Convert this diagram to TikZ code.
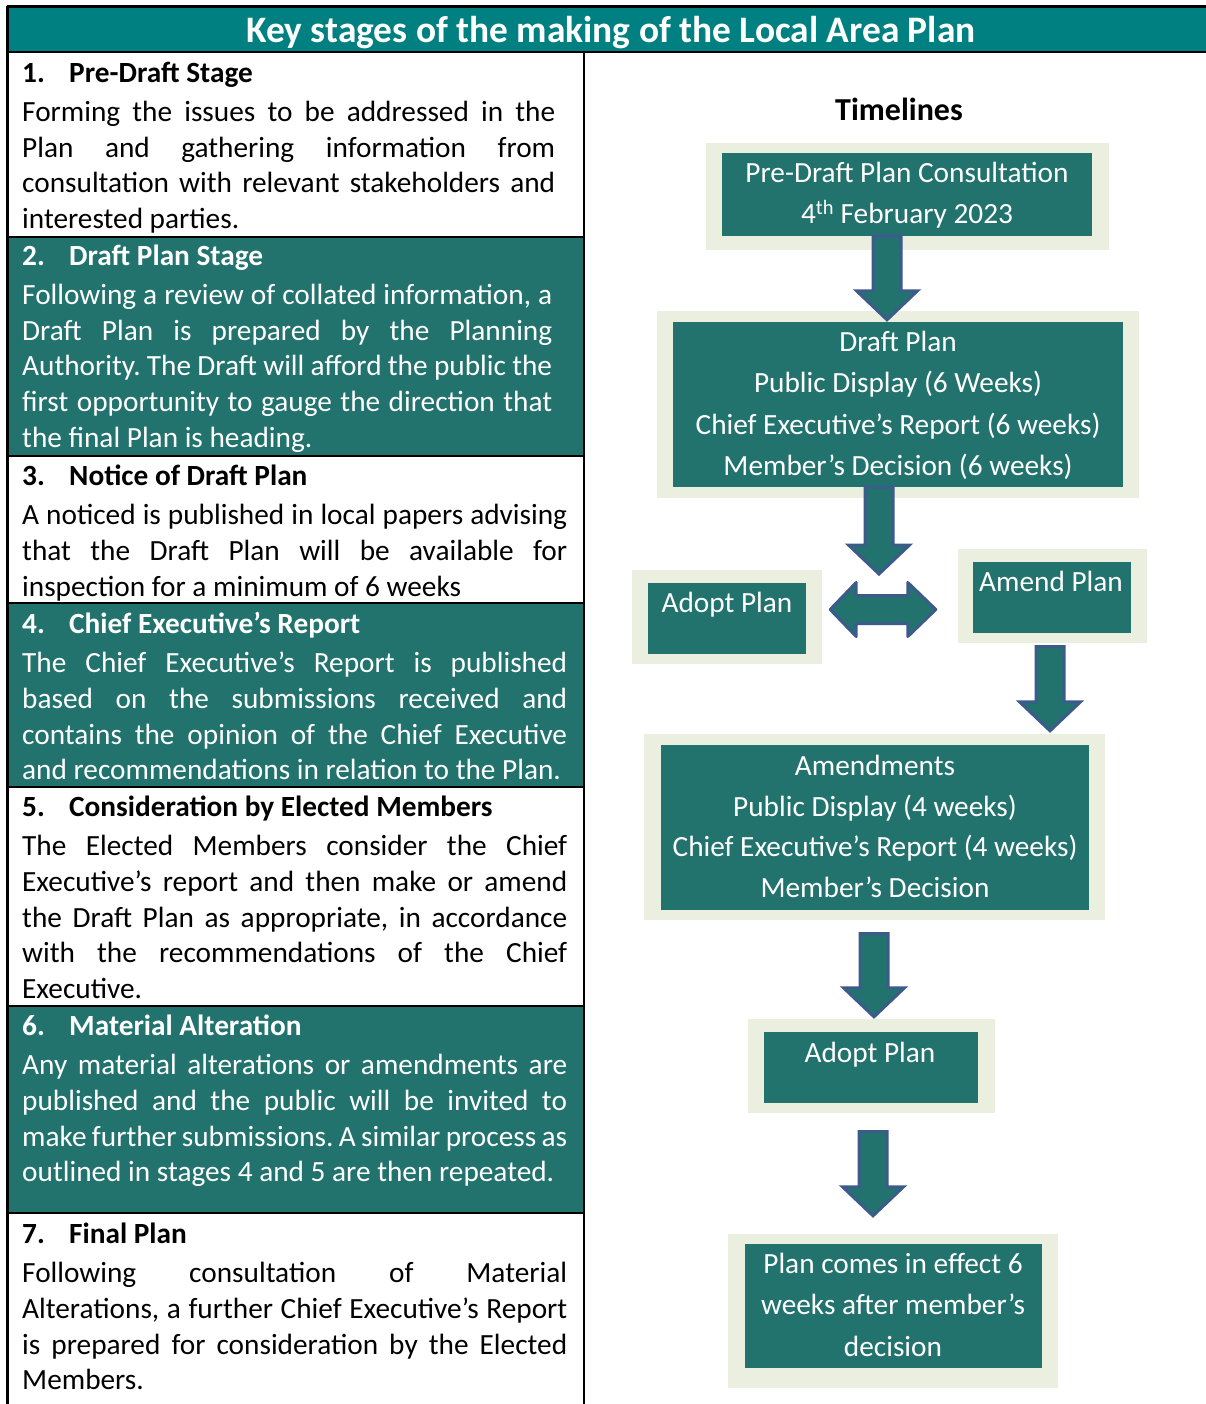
\documentclass[tikz,border=0pt]{standalone}
\usepackage{fontspec}
\setmainfont{Carlito}
\usetikzlibrary{calc,fit}
\definecolor{titleteal}{RGB}{0,128,128}
\definecolor{boxteal}{RGB}{34,115,110}
\definecolor{framebg}{RGB}{235,239,223}
\definecolor{arrowblue}{RGB}{60,91,139}
\newlength\rw
\newcommand\ns{\leavevmode\spaceskip=\fontdimen2\font\relax\xspaceskip=\spaceskip\frenchspacing}
\newcommand\J[1]{\makebox[\rw][s]{\spaceskip=0pt\xspaceskip=0pt\frenchspacing #1}}
\newcommand\hd[2]{\noindent\ns\textbf{\makebox[47pt][l]{#1}#2}}
\newcommand\blockdown[3]{%
  \path[barrow] let \p1=#2, \p2=#3 in
   (#1pt-14pt,\y1) -- (#1pt+14pt,\y1) -- (#1pt+14pt,\y2+29pt) -- (#1pt+30.5pt,\y2+29pt)
   -- (#1pt,\y2) -- (#1pt-30.5pt,\y2+29pt) -- (#1pt-14pt,\y2+29pt) -- cycle;}
\tikzset{
  rowtext/.style={anchor=base west, inner sep=0pt, align=left, text width=#1,
    font=\fontsize{29.3}{35.75}\selectfont\setlength\rw{#1}},
  framebox/.style={fill=framebg, inner sep=0pt, draw=none},
  tealbox/.style={fill=boxteal, inner sep=0pt, draw=none},
  boxtext/.style={anchor=base, inner sep=0pt, align=center, text=white, text width=480pt,
    font=\fontsize{29.3}{41.3}\selectfont},
  barrow/.style={fill=boxteal, draw=arrowblue, line width=3pt, line join=miter},
  tline/.style={draw=black, line width=2.2pt}
}
\begin{document}
\begin{tikzpicture}[x=1pt,y=-1pt]
\useasboundingbox[fill=white] (0,0) rectangle (1206,1404);
% title bar
\fill[titleteal] (6.5,6.5) rectangle (1206,52);
\draw[tline] (6.5,6.5) -- (1206,6.5);
\draw[tline, line width=2.6pt] (6.5,52) -- (1206,52);
\node[anchor=base, inner sep=0pt, text=white, font=\fontsize{37.4}{40}\selectfont\bfseries] (title) at (611,42.5) {Key stages of the making of the Local Area Plan};
% left table shaded rows
\fill[boxteal] (7.5,237) rectangle (584,456);
\fill[boxteal] (7.5,603) rectangle (584,787);
\fill[boxteal] (7.5,1006) rectangle (584,1213);
\foreach \yy in {237,456,603,787,1006,1213} \draw[tline] (7.5,\yy) -- (584,\yy);
\draw[tline] (7.5,6) -- (7.5,1404);
\draw[tline] (584,52) -- (584,1404);
% left texts
\node[rowtext=533pt] (r1) at (22,82.5) {\hd{1.}{Pre-Draft Stage}\\[3.25pt]
\J{Forming the issues to be addressed in the}\\
\J{Plan and gathering information from}\\
\J{consultation with relevant stakeholders and}\\
interested parties.};
\node[rowtext=530pt, text=white] (r2) at (22,265.5) {\hd{2.}{Draft Plan Stage}\\[3.25pt]
\J{Following a review of collated information, a}\\
\J{Draft Plan is prepared by the Planning}\\
\J{Authority. The Draft will afford the public the}\\
\J{first opportunity to gauge the direction that}\\
the final Plan is heading.};
\node[rowtext=545pt] (r3) at (22,485.5) {\hd{3.}{Notice of Draft Plan}\\[3.25pt]
\J{A noticed is published in local papers advising}\\
\J{that the Draft Plan will be available for}\\
inspection for a minimum of 6 weeks};
\node[rowtext=545pt, text=white] (r4) at (22,633.5) {\hd{4.}{Chief Executive’s Report}\\[3.25pt]
\J{The Chief Executive’s Report is published}\\
\J{based on the submissions received and}\\
\J{contains the opinion of the Chief Executive}\\
and recommendations in relation to the Plan.};
\node[rowtext=545pt] (r5) at (22,816.5) {\hd{5.}{Consideration by Elected Members}\\[3.25pt]
\J{The Elected Members consider the Chief}\\
\J{Executive’s report and then make or amend}\\
\J{the Draft Plan as appropriate, in accordance}\\
\J{with the recommendations of the Chief}\\
Executive.};
\node[rowtext=545pt, text=white] (r6) at (22,1035.5) {\hd{6.}{Material Alteration}\\[3.25pt]
\J{Any material alterations or amendments are}\\
\J{published and the public will be invited to}\\
\J{make further submissions. A similar process as}\\
outlined in stages 4 and 5 are then repeated.};
\node[rowtext=545pt] (r7) at (22,1243.5) {\hd{7.}{Final Plan}\\[3.25pt]
\J{Following consultation of Material}\\
\J{Alterations, a further Chief Executive’s Report}\\
\J{is prepared for consideration by the Elected}\\
Members.};
% right column
\node[anchor=base, inner sep=0pt, font=\fontsize{32}{36}\selectfont\bfseries] (tl) at (899,120.5) {Timelines};
\node[framebox, fit={(706,143) (1109,250)}] (pref) {};
\node[tealbox, fit={(722,153) (1092,236)}] (pre) {};
\node[framebox, fit={(657,311) (1139,498)}] (draftf) {};
\node[tealbox, fit={(673,322) (1123,487)}] (draft) {};
\node[framebox, fit={(632,570) (822,664)}] (adopt1f) {};
\node[tealbox, fit={(648,583) (806,654)}] (adopt1) {};
\node[framebox, fit={(958,549) (1147,643)}] (amendf) {};
\node[tealbox, fit={(973,562) (1131,633)}] (amend) {};
\node[framebox, fit={(644,734) (1105,920)}] (amdf) {};
\node[tealbox, fit={(661,745) (1089,910)}] (amd) {};
\node[framebox, fit={(748,1019) (995,1113)}] (adopt2f) {};
\node[tealbox, fit={(764,1032) (978,1103)}] (adopt2) {};
\node[framebox, fit={(728,1234) (1058,1388)}] (finalf) {};
\node[tealbox, fit={(745,1244) (1042,1368)}] (final) {};
% texts in boxes
\node[boxtext] (pret) at (907,182.5) {\ns Pre-Draft Plan Consultation\\4\textsuperscript{th} February 2023};
\node[boxtext] (draftt) at (898,351.5) {\ns Draft Plan\\Public Display (6 Weeks)\\Chief Executive’s Report (6 weeks)\\Member’s Decision (6 weeks)};
\node[boxtext] (adopt1t) at (727,612.5) {\ns Adopt Plan};
\node[boxtext] (amendt) at (1051,591.5) {\ns Amend Plan};
\node[boxtext, font=\fontsize{29.3}{40.7}\selectfont] (amdt) at (875,775.5) {\ns Amendments\\Public Display (4 weeks)\\Chief Executive’s Report (4 weeks)\\Member’s Decision};
\node[boxtext] (adopt2t) at (870,1062.5) {\ns Adopt Plan};
\node[boxtext] (finalt) at (893,1273.5) {\ns Plan comes in effect 6\\weeks after member’s\\decision};
% block arrows
\coordinate (a2end) at (879,574);
\blockdown{887}{(pre.south)}{($(draft.north)+(0,-2)$)}
\blockdown{879}{(draft.south)}{(a2end)}
\blockdown{1050}{($(amendf.south)+(0,3.5)$)}{($(amdf.north)+(0,-3)$)}
\blockdown{874}{($(amdf.south)+(0,13.5)$)}{($(adopt2f.north)+(0,-2)$)}
\blockdown{873}{($(adopt2f.south)+(0,18.5)$)}{($(finalf.north)+(0,-18)$)}
% double arrow between Adopt Plan and Amend Plan
\path[barrow, line join=round] let \p1=($(adopt1f.east)+(8,0)$), \p2=($(amendf.west)+(-22,0)$) in
  (\x1,-609.5pt) -- (\x1+26pt,-582.5pt) -- (\x1+26pt,-595.5pt) -- (\x2-28pt,-595.5pt) -- (\x2-28pt,-582.5pt)
  -- (\x2,-609.5pt) -- (\x2-28pt,-636.5pt) -- (\x2-28pt,-623.5pt) -- (\x1+26pt,-623.5pt) -- (\x1+26pt,-636.5pt) -- cycle;
\end{tikzpicture}
\end{document}
